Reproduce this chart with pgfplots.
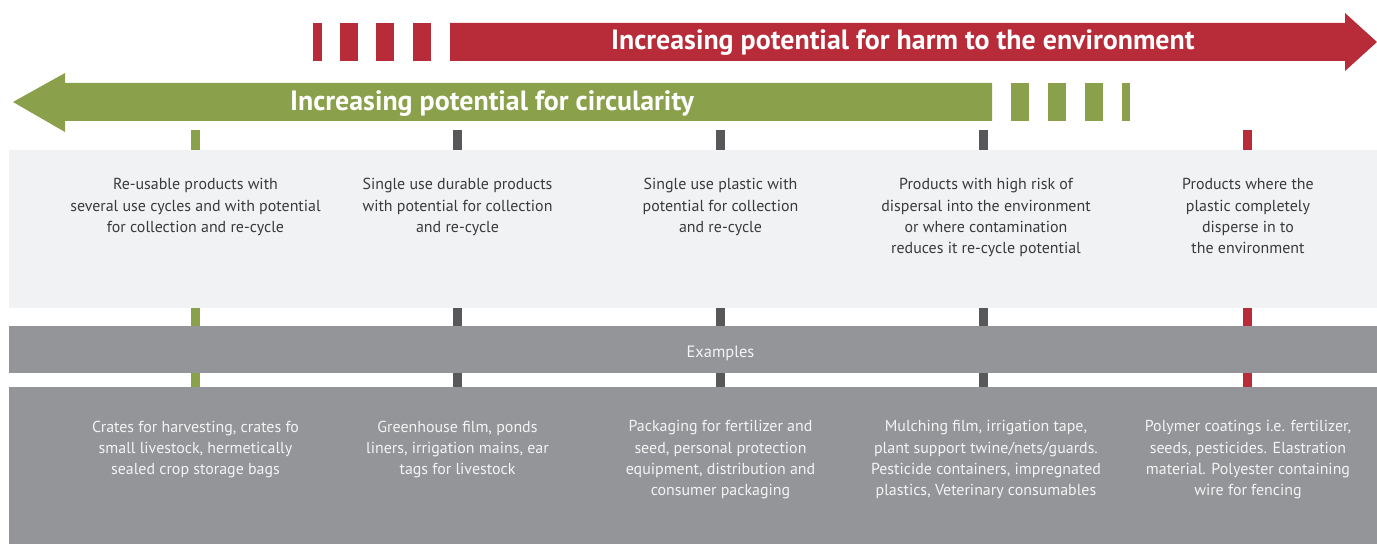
\documentclass[border=0pt]{standalone}
\usepackage{pgfplots}
\pgfplotsset{compat=1.18}
\usepackage{fontspec}
\setmainfont{PT Sans}
\definecolor{harm}{HTML}{B82C3A}
\definecolor{circ}{HTML}{8AA04A}
\definecolor{tickgray}{HTML}{58585A}
\definecolor{panel}{HTML}{F1F2F4}
\definecolor{exgray}{HTML}{939598}
\definecolor{darktext}{HTML}{3A3A3A}
\definecolor{lighttext}{HTML}{F4F4F4}
\begin{document}
\begin{tikzpicture}
\begin{axis}[
  hide axis, scale only axis, width=1377bp, height=544bp,
  xmin=0, xmax=1377, ymin=0, ymax=544, y dir=reverse, clip=false,
  every axis plot/.append style={draw=none},
]
% background
\addplot[fill=white] coordinates {(0,0) (1377,0) (1377,544) (0,544)} -- cycle;
% red arrow
\addplot[fill=harm] coordinates {(450,23) (1345,23) (1345,13) (1377,42) (1345,71) (1345,61) (450,61)} -- cycle;
\addplot[fill=harm] coordinates {(312.5,23) (321.5,23) (321.5,61) (312.5,61)} -- cycle;
\addplot[fill=harm] coordinates {(340,23) (358,23) (358,61) (340,61)} -- cycle;
\addplot[fill=harm] coordinates {(376,23) (394,23) (394,61) (376,61)} -- cycle;
\addplot[fill=harm] coordinates {(413,23) (431,23) (431,61) (413,61)} -- cycle;
% green arrow
\addplot[fill=circ] coordinates {(13,102) (65,73) (65,83) (992,83) (992,121) (65,121) (65,132)} -- cycle;
\addplot[fill=circ] coordinates {(1011,83) (1029,83) (1029,121) (1011,121)} -- cycle;
\addplot[fill=circ] coordinates {(1048,83) (1066,83) (1066,121) (1048,121)} -- cycle;
\addplot[fill=circ] coordinates {(1085,83) (1103,83) (1103,121) (1085,121)} -- cycle;
\addplot[fill=circ] coordinates {(1122,83) (1130,83) (1130,121) (1122,121)} -- cycle;
% ticks
\addplot[draw=circ, line width=9bp] coordinates {(195.5,130) (195.5,390)};
\addplot[draw=tickgray, line width=9bp] coordinates {(457.5,130) (457.5,390)};
\addplot[draw=tickgray, line width=9bp] coordinates {(720.5,130) (720.5,390)};
\addplot[draw=tickgray, line width=9bp] coordinates {(983.5,130) (983.5,390)};
\addplot[draw=harm, line width=9bp] coordinates {(1247.5,130) (1247.5,390)};
% panels
\addplot[fill=panel] coordinates {(9,150) (1377,150) (1377,308) (9,308)} -- cycle;
\addplot[fill=exgray] coordinates {(9,326) (1377,326) (1377,373) (9,373)} -- cycle;
\addplot[fill=exgray] coordinates {(9,387) (1377,387) (1377,544) (9,544)} -- cycle;
% arrow labels
\node[anchor=base west, inner sep=0, text=white, font=\fontsize{28}{32}\bfseries\selectfont] at (axis cs:611,50) {Increasing potential for harm to the environment};
\node[anchor=base west, inner sep=0, text=white, font=\fontsize{28}{32}\bfseries\selectfont] at (axis cs:290,110.5) {Increasing potential for circularity};
% top panel texts
\tikzset{toptext/.style={anchor=north, inner sep=0, align=center, text=darktext, font=\fontsize{16}{21.4}\selectfont},
         bottext/.style={anchor=north, inner sep=0, align=center, text=lighttext, font=\fontsize{16}{21.4}\selectfont}}
\node[toptext] at (axis cs:195.5,178.2) {Re-usable products with\\several use cycles and with potential\\for collection and re-cycle};
\node[toptext] at (axis cs:457.5,178.2) {Single use durable products\\with potential for collection\\and re-cycle};
\node[toptext] at (axis cs:720.5,178.2) {Single use plastic with\\potential for collection\\and re-cycle};
\node[toptext] at (axis cs:986,178.2) {Products with high risk of\\dispersal into the environment\\or where contamination\\reduces it re-cycle potential};
\node[toptext] at (axis cs:1248,178.2) {Products where the\\plastic completely\\disperse in to\\the environment};
% examples
\node[anchor=base, inner sep=0, text=lighttext, font=\fontsize{16.5}{21.4}\selectfont] at (axis cs:720.5,357) {Examples};
% bottom texts
\node[bottext] at (axis cs:195.5,420.5) {Crates for harvesting, crates fo\\small livestock, hermetically\\sealed crop storage bags};
\node[bottext] at (axis cs:457.5,420.5) {Greenhouse film, ponds\\liners, irrigation mains, ear\\tags for livestock};
\node[bottext] at (axis cs:720.5,420.5) {Packaging for fertilizer and\\seed, personal protection\\equipment, distribution and\\consumer packaging};
\node[bottext] at (axis cs:986,420.5) {Mulching film, irrigation tape,\\plant support twine/nets/guards.\\Pesticide containers, impregnated\\plastics, Veterinary consumables};
\node[bottext] at (axis cs:1248,420.5) {Polymer coatings i.e. fertilizer,\\seeds, pesticides. Elastration\\material. Polyester containing\\wire for fencing};
\end{axis}
\end{tikzpicture}
\end{document}
